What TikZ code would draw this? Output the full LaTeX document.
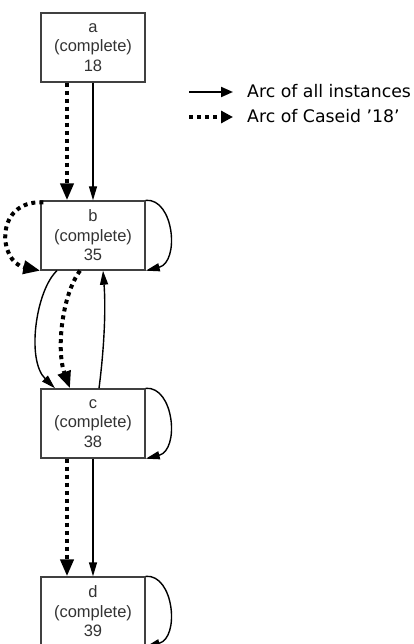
\documentclass[tikz,border=0pt]{standalone}
\usepackage{fontspec}
\setmainfont{Liberation Sans}
\newfontfamily\legfont{DejaVu Sans}
\usetikzlibrary{arrows.meta,calc}
\tikzset{
  evbox/.style={draw=black!75, line width=1.4pt, minimum width=104pt, minimum height=69pt, inner sep=0pt, align=center, text=black!80, font=\fontsize{16.5}{19.5}\selectfont},
  allarc/.style={line width=1.4pt, -{Triangle[length=14pt,width=8pt]}},
  casearc/.style={line width=4pt, dash pattern=on 4pt off 4pt, -{Triangle[length=17pt,width=13pt]}},
  legtext/.style={anchor=west, inner sep=0pt, font=\legfont\fontsize{17.3}{19}\selectfont}
}
\begin{document}
\begin{tikzpicture}[x=1pt,y=-1pt]
\useasboundingbox (0,0) rectangle (414,644);
\begin{scope}
\clip (0,0) rectangle (414,644);
\node[evbox] (a) at (93,47.5) {a\\(complete)\\18};
\node[evbox] (b) at (93,235.5) {b\\(complete)\\35};
\node[evbox] (c) at (93,423.5) {c\\(complete)\\38};
\node[evbox] (d) at (93,611.5) {d\\(complete)\\39};
% a -> b
\draw[allarc] (a.south) -- (b.north);
\draw[casearc] ($(a.south)+(-26,0)$) -- ($(b.north)+(-26,0)$);
% self loops
\draw[allarc] (b.north east) .. controls (174,198) and (180,262) .. (b.south east);
\draw[allarc] (c.north east) .. controls (174,386) and (180,450) .. (c.south east);
\draw[allarc] (d.north east) .. controls (174,574) and (180,638) .. (d.south east);
% dotted loop on b
\draw[casearc] ($(b.north west)+(3,2)$) .. controls (-6,200) and (-2,262) .. ($(b.south west)+(0,0)$);
% b -> c and c -> b
\draw[allarc] ($(b.south)+(-36,0)$) .. controls (36,290) and (26,360) .. ($(c.north)+(-38,0)$);
\draw[casearc] ($(b.south)+(-13,0)$) .. controls (62,295) and (56,350) .. ($(c.north)+(-23,0)$);
\draw[allarc] ($(c.north)+(6,0)$) .. controls (104,350) and (106,310) .. ($(b.south)+(10,0)$);
% c -> d
\draw[allarc] (c.south) -- (d.north);
\draw[casearc] ($(c.south)+(-26,0)$) -- ($(d.north)+(-26,0)$);
\end{scope}
% legend
\coordinate (l1s) at (189,92);
\coordinate (l1e) at (233,92);
\coordinate (l2s) at (189,117);
\coordinate (l2e) at (233,117);
\draw[line width=2pt, -{Triangle[length=12pt,width=10pt]}] (l1s) -- (l1e);
\draw[line width=4pt, dash pattern=on 4pt off 4pt, -{Triangle[length=12pt,width=12pt]}] (l2s) -- (l2e);
\node[legtext] (t1) at (247,91) {Arc of all instances};
\node[legtext] (t2) at (247,116) {Arc of Caseid ’18’};
\end{tikzpicture}
\end{document}
